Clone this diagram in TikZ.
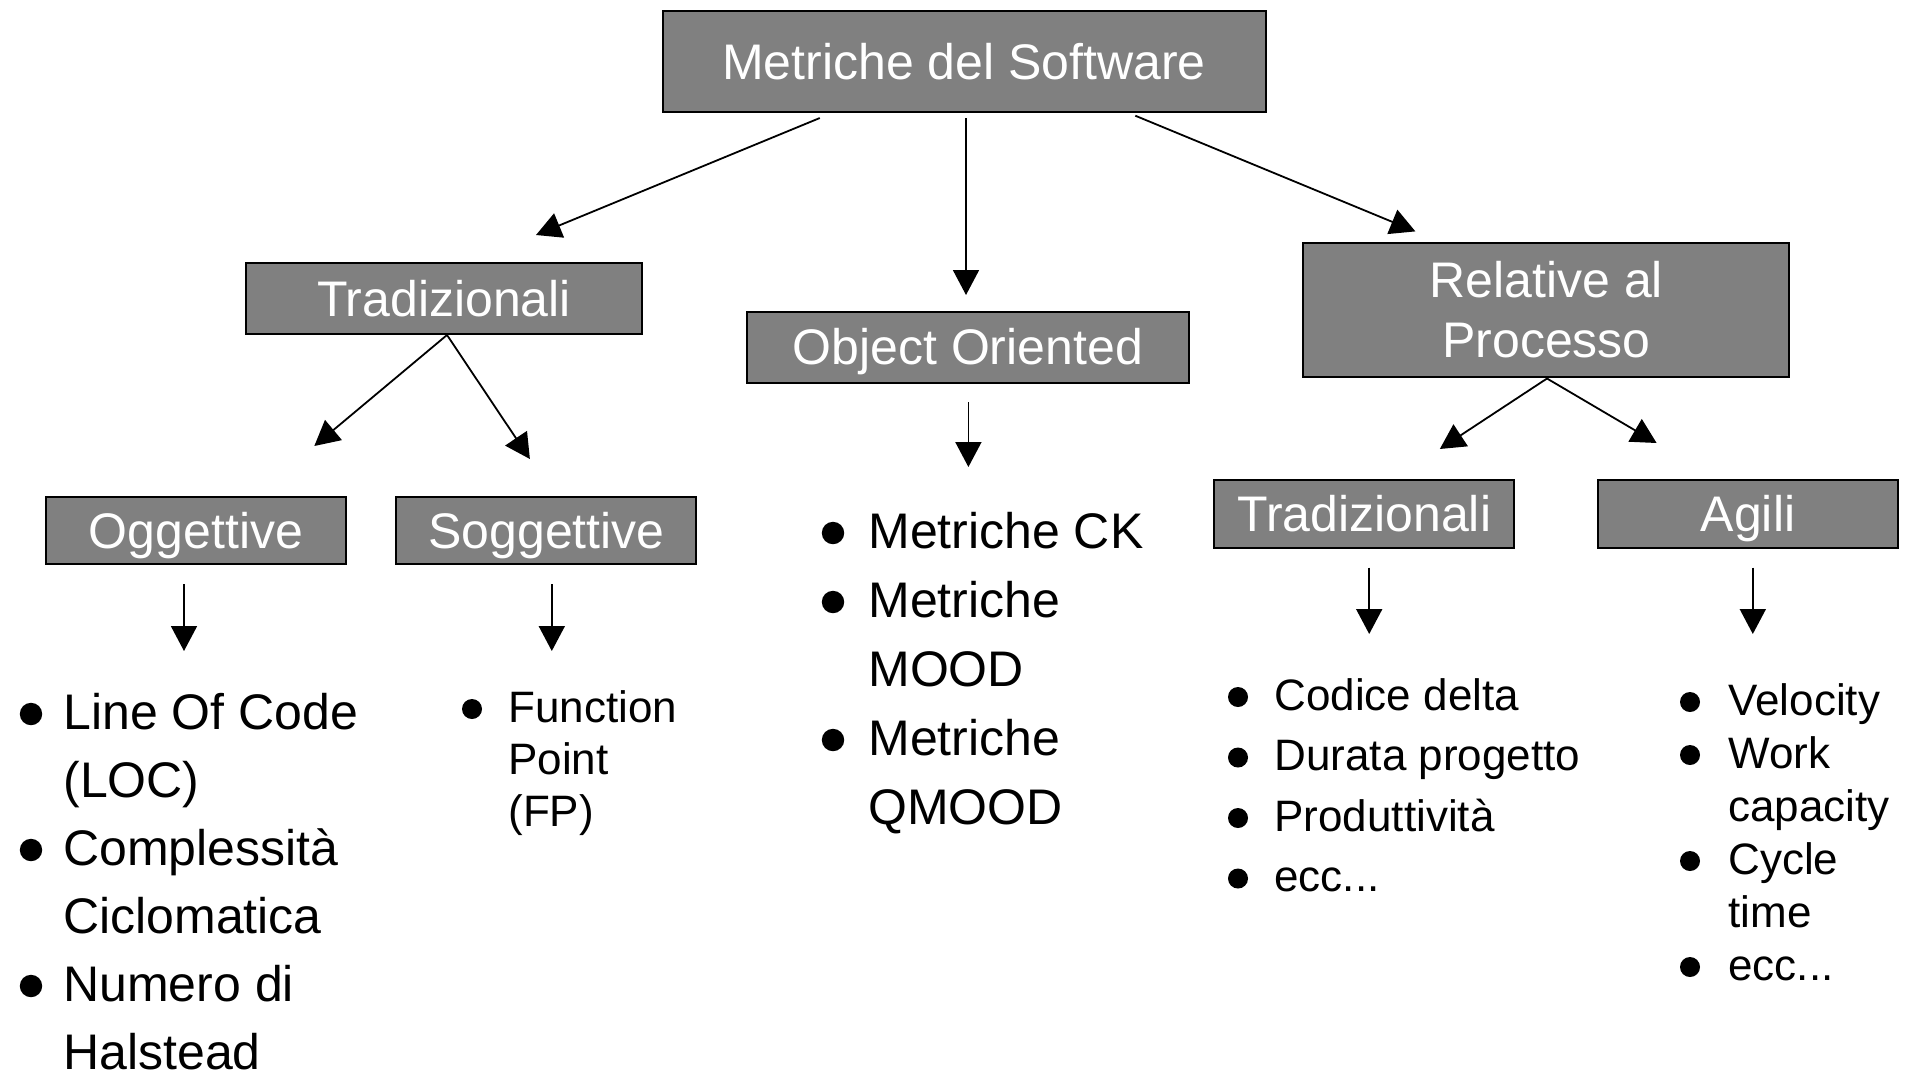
\documentclass[tikz,border=0pt]{standalone}
\usepackage{fontspec}
\setmainfont{Liberation Sans}
\usetikzlibrary{arrows.meta}
\definecolor{boxgray}{HTML}{808080}
\newcommand\fbig{\fontsize{25pt}{30pt}\selectfont}
\newcommand\fsmall{\fontsize{22pt}{26pt}\selectfont}
\newcommand\eccdots{ecc...}

\begin{document}
\begin{tikzpicture}[x=0.5pt,y=-0.5pt,
  boxbase/.style={draw=black,line width=1pt,fill=boxgray,text=white,font=\fbig,inner sep=0pt},
  box/.style={boxbase,text height=17.9pt,text depth=0pt},
  wide/.style={minimum width=150pt,minimum height=33.5pt},
  link/.style={line width=0.9pt,-{Triangle[length=12.5pt,width=13pt]}},
  item/.style={anchor=base west,inner sep=0pt}
]
\useasboundingbox[fill=white] (0,0) rectangle (1910,1078);

% category boxes
\node[box,minimum width=301.5pt,minimum height=50.5pt] (root) at (964,61.5) {Metriche del Software};
\node[box,minimum width=198pt,minimum height=35.5pt] (trad) at (444,298.5) {Tradizionali};
\node[box,minimum width=221pt,minimum height=35.5pt] (oo) at (967.8,347) {Object Oriented};
\node[boxbase,align=center,minimum width=243pt,minimum height=67pt] (rel) at (1546.4,309.5) {Relative al\\Processo};
\node[box,wide] (ogg) at (196,530.5) {Oggettive};
\node[box,wide] (sog) at (546.4,530.5) {Soggettive};
\node[box,wide,minimum height=34pt] (trad2) at (1364.3,514) {Tradizionali};
\node[box,wide,minimum height=34pt] (agili) at (1748,514) {Agili};

% arrow end points (arrows stop short of the boxes)
\coordinate (rootA) at (819.8,118);
\coordinate (rootB) at (966,118);
\coordinate (rootC) at (1135.3,115.7);
\coordinate (tradIn) at (536,235);
\coordinate (ooIn) at (966,295);
\coordinate (relIn) at (1415.4,231.4);
\coordinate (tradOut) at (447,335);
\coordinate (oggIn) at (314.3,446);
\coordinate (sogIn) at (529.9,459);
\coordinate (oggOut) at (184,584);
\coordinate (oggList) at (184,651);
\coordinate (sogOut) at (551.8,584);
\coordinate (sogList) at (551.8,651);
\coordinate (ooOut) at (968.4,402);
\coordinate (ooList) at (968.4,467);
\coordinate (relOut) at (1547,378.5);
\coordinate (trad2In) at (1439.8,449);
\coordinate (agiliIn) at (1656.6,443);
\coordinate (trad2Out) at (1369.2,567.5);
\coordinate (trad2List) at (1369.2,634);
\coordinate (agiliOut) at (1752.8,567.5);
\coordinate (agiliList) at (1752.8,634);

\draw[link] (rootA) -- (tradIn);
\draw[link] (rootB) -- (ooIn);
\draw[link] (rootC) -- (relIn);
\draw[link] (tradOut) -- (oggIn);
\draw[link] (tradOut) -- (sogIn);
\draw[link] (oggOut) -- (oggList);
\draw[link] (sogOut) -- (sogList);
\draw[link] (ooOut) -- (ooList);
\draw[link] (relOut) -- (trad2In);
\draw[link] (relOut) -- (agiliIn);
\draw[link] (trad2Out) -- (trad2List);
\draw[link] (agiliOut) -- (agiliList);

% bullet lists
\foreach \t [count=\i from 0] in {Line Of Code,(LOC),Complessità,Ciclomatica,Numero di,Halstead}
  \node[item,font=\fbig] (oggL\i) at (63,{729+68*\i}) {\t};
\foreach \i in {0,2,4}
  \fill (31,{714+68*\i}) circle[radius=5.6pt];

\foreach \t [count=\i from 0] in {Function,Point,(FP)}
  \node[item,font=\fsmall] (sogL\i) at (508,{722+52*\i}) {\t};
\fill (472,709) circle[radius=5pt];

\foreach \t [count=\i from 0] in {Metriche CK,Metriche,MOOD,Metriche,QMOOD}
  \node[item,font=\fbig] (ooL\i) at (868,{548+69*\i}) {\t};
\foreach \i in {0,1,3}
  \fill (833,{533+69*\i}) circle[radius=5.6pt];

\foreach \t [count=\i from 0] in {Codice delta,Durata progetto,Produttività,\eccdots}
  \node[item,font=\fsmall] (trad2L\i) at (1274,{710+60.5*\i}) {\t};
\foreach \i in {0,1,2,3}
  \fill (1238,{697+60.5*\i}) circle[radius=5pt];

\foreach \t [count=\i from 0] in {Velocity,Work,capacity,Cycle,time,\eccdots}
  \node[item,font=\fsmall] (agiliL\i) at (1728,{715+53*\i}) {\t};
\foreach \i in {0,1,3,5}
  \fill (1690,{702+53*\i}) circle[radius=5pt];
\end{tikzpicture}
\end{document}
